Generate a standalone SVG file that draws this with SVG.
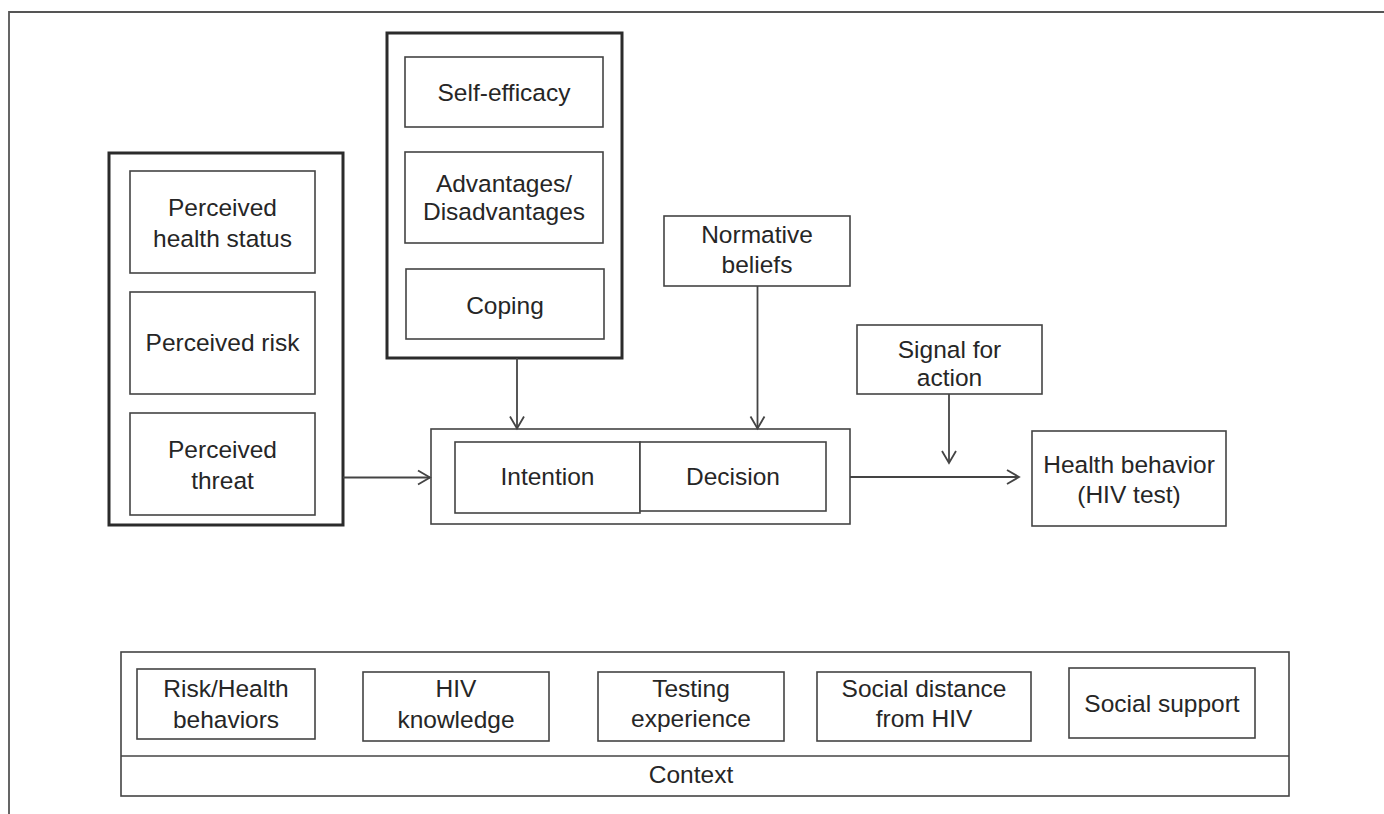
<svg xmlns="http://www.w3.org/2000/svg" width="1384" height="814" viewBox="0 0 1384 814">
<style>
.bg{fill:#ffffff}
.frame{fill:none;stroke:#555;stroke-width:1.8}
.thick{fill:#fff;stroke:#2b2b2b;stroke-width:3}
.box{fill:#fff;stroke:#444;stroke-width:1.6}
.line{fill:none;stroke:#444;stroke-width:1.8}
text{font-family:"Liberation Sans",Arial,sans-serif;font-size:24.5px;fill:#262626;text-anchor:middle}
</style>
<defs>
<marker id="arr" markerUnits="userSpaceOnUse" markerWidth="20" markerHeight="20" viewBox="-14 -10 16 20" refX="0" refY="0" orient="auto">
<path d="M-12,-7 L0,0 L-12,7" fill="none" stroke="#444" stroke-width="1.8"/>
</marker>
</defs>
<rect class="bg" x="0" y="0" width="1384" height="814"/>
<path class="frame" d="M9,814 V12 H1384"/>

<g id="perception-group">
<rect class="thick" x="109" y="153" width="234" height="372"/>
<g id="perceived-health-status">
<rect class="box" x="130" y="171" width="185" height="102"/>
<text x="222.5" y="216">Perceived</text>
<text x="222.5" y="247">health status</text>
</g>
<g id="perceived-risk">
<rect class="box" x="130" y="292" width="185" height="102"/>
<text x="222.5" y="351">Perceived risk</text>
</g>
<g id="perceived-threat">
<rect class="box" x="130" y="413" width="185" height="102"/>
<text x="222.5" y="458">Perceived</text>
<text x="222.5" y="489">threat</text>
</g>
</g>

<g id="attitude-group">
<rect class="thick" x="387" y="33" width="235" height="325"/>
<g id="self-efficacy">
<rect class="box" x="405" y="57" width="198" height="70"/>
<text x="504" y="101">Self-efficacy</text>
</g>
<g id="advantages">
<rect class="box" x="405" y="152" width="198" height="91"/>
<text x="504" y="192">Advantages/</text>
<text x="504" y="220">Disadvantages</text>
</g>
<g id="coping">
<rect class="box" x="406" y="269" width="198" height="70"/>
<text x="505" y="314">Coping</text>
</g>
</g>

<g id="normative-beliefs">
<rect class="box" x="664" y="216" width="186" height="70"/>
<text x="757" y="243">Normative</text>
<text x="757" y="273">beliefs</text>
</g>

<g id="signal-for-action">
<rect class="box" x="857" y="325" width="185" height="69"/>
<text x="949.5" y="358">Signal for</text>
<text x="949.5" y="386">action</text>
</g>

<g id="intention-decision">
<rect class="box" x="431" y="429" width="419" height="95"/>
<g id="intention">
<rect class="box" x="455" y="442" width="185" height="71"/>
<text x="547.5" y="485">Intention</text>
</g>
<g id="decision">
<rect class="box" x="640" y="442" width="186" height="69"/>
<text x="733" y="485">Decision</text>
</g>
</g>

<g id="health-behavior">
<rect class="box" x="1032" y="431" width="194" height="95"/>
<text x="1129" y="473">Health behavior</text>
<text x="1129" y="503">(HIV test)</text>
</g>

<g id="context">
<rect class="box" x="121" y="652" width="1168" height="144"/>
<line class="box" x1="121" y1="756" x2="1289" y2="756"/>
<text x="691" y="783">Context</text>
<g id="risk-health-behaviors">
<rect class="box" x="137" y="669" width="178" height="70"/>
<text x="226" y="697">Risk/Health</text>
<text x="226" y="728">behaviors</text>
</g>
<g id="hiv-knowledge">
<rect class="box" x="363" y="672" width="186" height="69"/>
<text x="456" y="697">HIV</text>
<text x="456" y="728">knowledge</text>
</g>
<g id="testing-experience">
<rect class="box" x="598" y="672" width="186" height="69"/>
<text x="691" y="697">Testing</text>
<text x="691" y="727">experience</text>
</g>
<g id="social-distance">
<rect class="box" x="817" y="672" width="214" height="69"/>
<text x="924" y="697">Social distance</text>
<text x="924" y="727">from HIV</text>
</g>
<g id="social-support">
<rect class="box" x="1069" y="668" width="186" height="70"/>
<text x="1162" y="712">Social support</text>
</g>
</g>

<g id="connectors">
<line class="line" x1="343" y1="477.5" x2="430" y2="477.5" marker-end="url(#arr)"/>
<line class="line" x1="517" y1="358" x2="517" y2="428.5" marker-end="url(#arr)"/>
<line class="line" x1="757.5" y1="286" x2="757.5" y2="428.5" marker-end="url(#arr)"/>
<line class="line" x1="949" y1="394" x2="949" y2="463" marker-end="url(#arr)"/>
<line class="line" x1="850" y1="477" x2="1019" y2="477" marker-end="url(#arr)"/>
</g>
</svg>
